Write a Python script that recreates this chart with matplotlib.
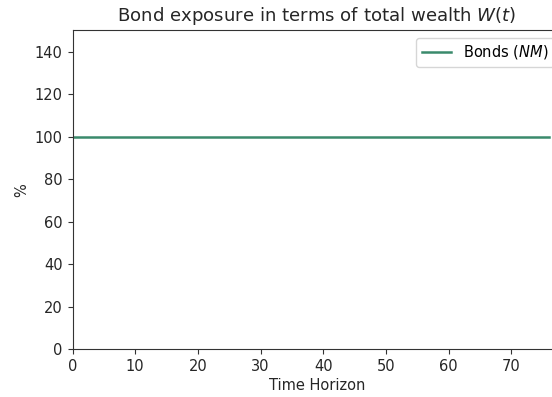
import numpy as np
import matplotlib
matplotlib.use("Agg")
import matplotlib.pyplot as plt

# Time horizon (years) and the bond share of total wealth (%)
years = np.arange(0, 77)
bond_share = [100.0] * len(years)

x_ticks = [0, 10, 20, 30, 40, 50, 60, 70]
y_ticks = [0, 20, 40, 60, 80, 100, 120, 140]

DPI = 100
fig = plt.figure(figsize=(5.52, 3.97), dpi=DPI)
W, H = 552, 397
ax = fig.add_axes([72.5 / W, (H - 349) / H, 489 / W, 318.7 / H])

ax.plot(years, bond_share, color="#3a8a6c", linewidth=1.8, label="Bonds ($NM$)")

ax.set_xlim(0, 78)
ax.set_ylim(0, 150)
ax.set_xticks(x_ticks)
ax.set_yticks(y_ticks)
ax.tick_params(labelsize=10.5, length=3.5, color="#333333", labelcolor="#262626")
for s in ax.spines.values():
    s.set_color("#333333")

ax.set_title("Bond exposure in terms of total wealth $W(t)$", fontsize=13.1,
             color="#262626", pad=7)
ax.set_xlabel("Time Horizon", fontsize=10.5, color="#262626", labelpad=3)
ax.set_ylabel("%", fontsize=10.5, color="#262626")
ax.legend(loc="upper right", fontsize=10.5)

fig.savefig("out.png", dpi=DPI)
